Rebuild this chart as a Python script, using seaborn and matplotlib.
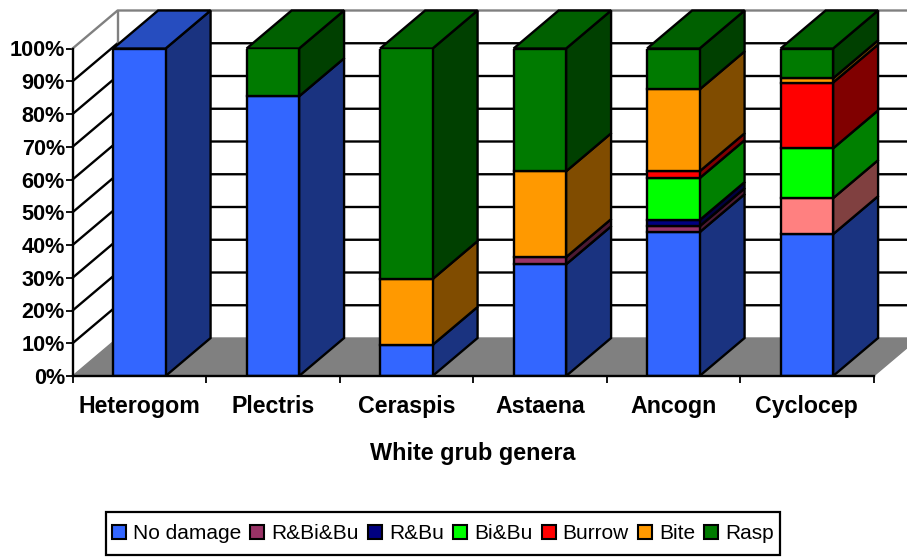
import numpy as np
import pandas as pd
import matplotlib
matplotlib.use("Agg")
import matplotlib.pyplot as plt
from matplotlib.patches import Patch, Polygon, Rectangle
import seaborn as sns

genera = ["Heterogom", "Plectris", "Ceraspis", "Astaena", "Ancogn", "Cyclocep"]
series_names = ["No damage", "R&Bi&Bu", "R&Bu", "Bi&Bu", "Burrow", "Bite", "Rasp"]
no_damage = [100, 85.4, 9.5, 34.1, 43.9, 43.3]
r_bi_bu = [0, 0, 0, 2.2, 1.8, 11.0]
r_bu = [0, 0, 0, 0, 1.9, 0]
bi_bu = [0, 0, 0, 0, 12.8, 15.2]
burrow = [0, 0, 0, 0, 2.1, 20.1]
bite = [0, 0, 20.1, 26.2, 25.0, 1.3]
rasp = [0, 14.6, 70.4, 37.5, 12.5, 9.1]
series_values = [no_damage, r_bi_bu, r_bu, bi_bu, burrow, bite, rasp]

front_colors = ["#3366FF", "#993366", "#000080", "#00FF00", "#FF0000", "#FF9900", "#007A00"]
side_colors = ["#1A3380", "#4C1A33", "#000040", "#008000", "#800000", "#804C00", "#004000"]
top_colors = {"No damage": "#264DBF", "Rasp": "#006000"}
pink_front, pink_side = "#FF8080", "#804040"

W, H = 907, 559
AX_L, AX_R, AX_T, AX_B = 72.6, 873.6, 48.5, 376
DX = 45 / ((AX_R - AX_L) / 6)      # depth offset in category units
DY = 38 / ((AX_B - AX_T) / 100)    # depth offset in percent units
BAR_W = 0.393
LW = 1.7

sns.set_theme(style="white")
plt.rcParams["font.family"] = ["Liberation Sans", "DejaVu Sans"]

fig = plt.figure(figsize=(W / 100, H / 100), dpi=100)
ax = fig.add_axes([AX_L / W, 1 - AX_B / H, (AX_R - AX_L) / W, (AX_B - AX_T) / H])

bottoms = np.zeros(len(genera))
for name, vals, fc, sc in zip(series_names, series_values, front_colors, side_colors):
    vals = np.asarray(vals, float)
    keep = vals > 0
    df = pd.DataFrame({"genus": np.array(genera)[keep], "value": vals[keep]})
    before = len(ax.patches)
    sns.barplot(data=df, x="genus", y="value", order=genera, color=fc, saturation=1,
                width=BAR_W, errorbar=None, bottom=bottoms[keep], ax=ax,
                edgecolor="black", linewidth=LW, zorder=4)
    for p, g in zip(ax.patches[before:], df["genus"]):
        x0, y0, w, h = p.get_x(), p.get_y(), p.get_width(), p.get_height()
        side = sc
        if name == "R&Bi&Bu" and g == "Cyclocep":
            p.set_facecolor(pink_front)
            side = pink_side
        ax.add_patch(Polygon([(x0 + w, y0), (x0 + w + DX, y0 + DY),
                              (x0 + w + DX, y0 + h + DY), (x0 + w, y0 + h)],
                             closed=True, facecolor=side, edgecolor="black",
                             linewidth=LW, zorder=3, clip_on=False))
        if name in top_colors and y0 + h >= 99.9:
            ax.add_patch(Polygon([(x0, y0 + h), (x0 + w, y0 + h),
                                  (x0 + w + DX, y0 + h + DY), (x0 + DX, y0 + h + DY)],
                                 closed=True, facecolor=top_colors[name], edgecolor="black",
                                 linewidth=LW, zorder=3, clip_on=False))
    bottoms = bottoms + vals

xmin, xmax = -0.5, 5.5
ax.set_xlim(xmin, xmax)
ax.set_ylim(0, 100)
ax.patch.set_alpha(0)
ax.grid(False)

# floor
ax.add_patch(Polygon([(xmin, 0), (xmax, 0), (xmax + DX, DY), (xmin + DX, DY)], closed=True,
                     facecolor="#808080", edgecolor="#808080", linewidth=1, zorder=1, clip_on=False))

# walls and gridlines
yticks = np.arange(0, 101, 10)
for v in yticks[1:-1]:
    ax.plot([xmin, xmin + DX, xmax + DX], [v, v + DY, v + DY], color="black", lw=LW,
            zorder=2, clip_on=False, solid_joinstyle="miter")
ax.plot([xmin, xmin + DX, xmax + DX], [100, 100 + DY, 100 + DY], color="#808080", lw=LW,
        zorder=2, clip_on=False)
ax.plot([xmin + DX, xmin + DX], [DY, 100 + DY], color="#808080", lw=LW, zorder=2, clip_on=False)

for s in ["top", "right"]:
    ax.spines[s].set_visible(False)
for s in ["left", "bottom"]:
    ax.spines[s].set_visible(True)
    ax.spines[s].set_color("black")
    ax.spines[s].set_linewidth(LW)
    ax.spines[s].set_zorder(6)

ax.set_yticks(yticks)
ax.set_yticklabels([f"{v}%" for v in yticks], fontsize=15.6, fontweight="bold", color="black")
ax.set_xticks(np.arange(xmin, xmax + 0.5, 1))
ax.set_xticklabels([])
ax.set_xticks(np.arange(len(genera)), minor=True)
ax.set_xticklabels(genera, minor=True, fontsize=16.7, fontweight="bold", color="black",
                   va="baseline")
ax.tick_params(axis="both", which="major", length=5, width=1.3, color="black", left=True,
               bottom=True, pad=0.5)
ax.tick_params(axis="x", which="minor", length=0, pad=26.6, bottom=False)
for lab in ax.get_xticklabels(minor=True):
    lab.set_verticalalignment("baseline")
ax.set_ylabel("")
ax.set_xlabel("White grub genera", fontsize=16.8, fontweight="bold", color="black")
ax.xaxis.set_label_coords(0.5, -(442 - AX_B) / (AX_B - AX_T))

# legend frame and entries
fig.add_artist(Rectangle((106 / W, 1 - 555 / H), 674 / W, 43 / H, transform=fig.transFigure,
                         facecolor="white", edgecolor="black", linewidth=1.6))
handles = [Patch(facecolor=c, edgecolor="black", linewidth=1.5) for c in front_colors]
leg = fig.legend(handles, series_names, loc="center", bbox_to_anchor=(443 / W, 1 - 533.5 / H),
                 bbox_transform=fig.transFigure, ncol=7, fontsize=15, frameon=False,
                 labelcolor="black",
                 handlelength=0.67, handleheight=0.67, handletextpad=0.34, columnspacing=0.44,
                 borderpad=0.3, borderaxespad=0, labelspacing=0)
leg.set_zorder(5)

fig.savefig("out.png", dpi=100, facecolor="white")
